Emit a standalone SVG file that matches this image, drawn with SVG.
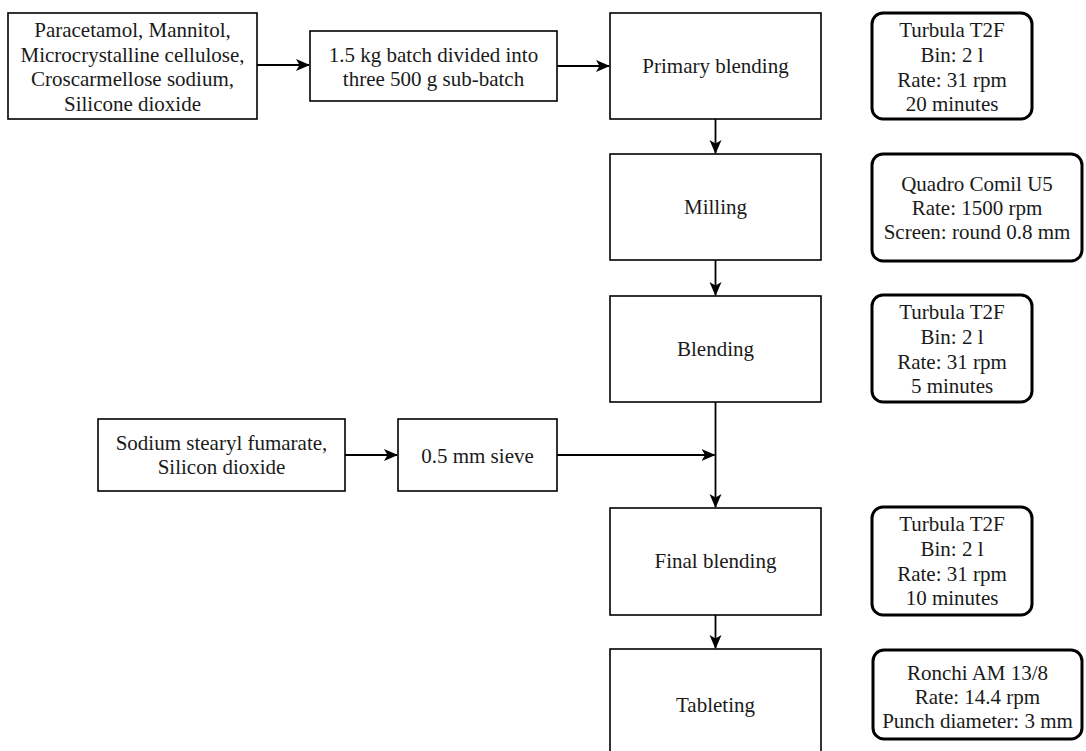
<svg xmlns="http://www.w3.org/2000/svg" width="1086" height="751" viewBox="0 0 1086 751">
  <style>
    .box { fill: #fff; stroke: #000; stroke-width: 1.6; }
    .info { fill: #fff; stroke: #000; stroke-width: 3; }
    .edge { fill: none; stroke: #000; stroke-width: 1.8; }
    text { font-family: 'Liberation Serif', 'Times New Roman', serif; font-size: 21px; fill: #1a1a1a; text-anchor: middle; }
  </style>
  <defs>
    <marker id="arrow" viewBox="0 0 14 14" refX="13" refY="7" markerWidth="14" markerHeight="14" markerUnits="userSpaceOnUse" orient="auto">
      <path d="M0,1 L14,7 L0,13 L3.5,7 Z" fill="#000"/>
    </marker>
  </defs>
  <rect width="1086" height="751" fill="#fff"/>

  <g id="connectors">
    <path class="edge" d="M257,65 L309,65" marker-end="url(#arrow)"/>
    <path class="edge" d="M557,66 L609,66" marker-end="url(#arrow)"/>
    <path class="edge" d="M715.5,119 L715.5,153" marker-end="url(#arrow)"/>
    <path class="edge" d="M715.5,260 L715.5,295" marker-end="url(#arrow)"/>
    <path class="edge" d="M715.5,402 L715.5,507" marker-end="url(#arrow)"/>
    <path class="edge" d="M345,455 L397,455" marker-end="url(#arrow)"/>
    <path class="edge" d="M557,455 L714.5,455" marker-end="url(#arrow)"/>
    <path class="edge" d="M715.5,615 L715.5,648" marker-end="url(#arrow)"/>
  </g>

  <g id="ingredients">
    <rect class="box" x="8" y="13" width="249" height="106"/>
    <text x="132.5" y="37">Paracetamol, Mannitol,</text>
    <text x="132.5" y="61.5">Microcrystalline cellulose,</text>
    <text x="132.5" y="86">Croscarmellose sodium,</text>
    <text x="132.5" y="110.5">Silicone dioxide</text>
  </g>

  <g id="batch">
    <rect class="box" x="310" y="31" width="247" height="70"/>
    <text x="433.5" y="62">1.5 kg batch divided into</text>
    <text x="433.5" y="85.5">three 500 g sub-batch</text>
  </g>

  <g id="primary-blending">
    <rect class="box" x="610" y="13" width="211" height="106"/>
    <text x="715.5" y="73">Primary blending</text>
  </g>
  <g id="primary-blending-info">
    <rect class="info" x="872" y="13" width="160" height="106" rx="11"/>
    <text x="952" y="37">Turbula T2F</text>
    <text x="952" y="62">Bin: 2 l</text>
    <text x="952" y="86.5">Rate: 31 rpm</text>
    <text x="952" y="111">20 minutes</text>
  </g>

  <g id="milling">
    <rect class="box" x="610" y="154" width="211" height="106"/>
    <text x="715.5" y="214">Milling</text>
  </g>
  <g id="milling-info">
    <rect class="info" x="872" y="154" width="210" height="107" rx="11"/>
    <text x="977" y="191">Quadro Comil U5</text>
    <text x="977" y="215">Rate: 1500 rpm</text>
    <text x="977" y="239">Screen: round 0.8 mm</text>
  </g>

  <g id="blending">
    <rect class="box" x="610" y="296" width="211" height="106"/>
    <text x="715.5" y="356">Blending</text>
  </g>
  <g id="blending-info">
    <rect class="info" x="872" y="295" width="160" height="107" rx="11"/>
    <text x="952" y="319">Turbula T2F</text>
    <text x="952" y="344">Bin: 2 l</text>
    <text x="952" y="368.5">Rate: 31 rpm</text>
    <text x="952" y="393">5 minutes</text>
  </g>

  <g id="lubricants">
    <rect class="box" x="98" y="419" width="247" height="72"/>
    <text x="221.5" y="450">Sodium stearyl fumarate,</text>
    <text x="221.5" y="474">Silicon dioxide</text>
  </g>

  <g id="sieve">
    <rect class="box" x="398" y="419" width="159" height="72"/>
    <text x="477.5" y="462.5">0.5 mm sieve</text>
  </g>

  <g id="final-blending">
    <rect class="box" x="610" y="508" width="211" height="107"/>
    <text x="715.5" y="568">Final blending</text>
  </g>
  <g id="final-blending-info">
    <rect class="info" x="872" y="507" width="160" height="108" rx="11"/>
    <text x="952" y="531">Turbula T2F</text>
    <text x="952" y="556">Bin: 2 l</text>
    <text x="952" y="580.5">Rate: 31 rpm</text>
    <text x="952" y="605">10 minutes</text>
  </g>

  <g id="tableting">
    <rect class="box" x="610" y="649" width="211" height="110"/>
    <text x="715.5" y="712">Tableting</text>
  </g>
  <g id="tableting-info">
    <rect class="info" x="873" y="650" width="209" height="89" rx="11"/>
    <text x="977.5" y="680">Ronchi AM 13/8</text>
    <text x="977.5" y="704">Rate: 14.4 rpm</text>
    <text x="977.5" y="728">Punch diameter: 3 mm</text>
  </g>
</svg>
